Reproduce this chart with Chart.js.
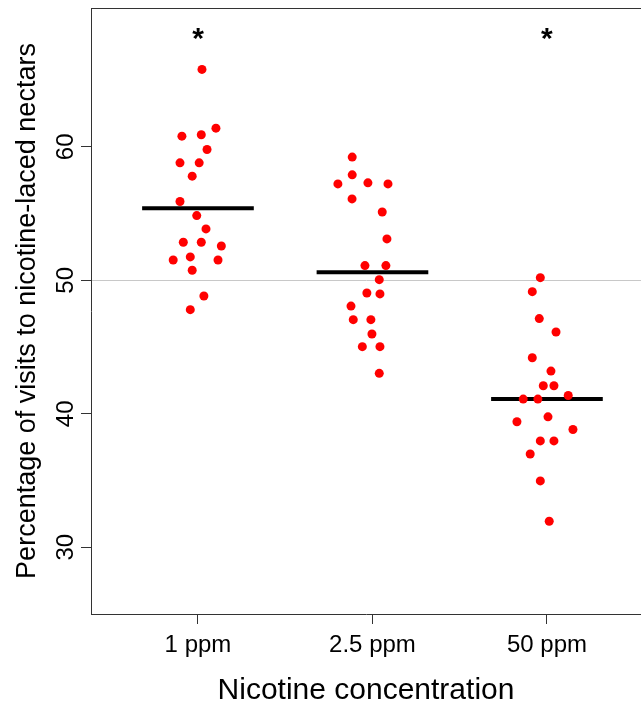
<!DOCTYPE html>
<html>
<head>
<meta charset="utf-8">
<script src="https://cdn.jsdelivr.net/npm/chart.js@4/dist/chart.umd.min.js"></script>
<style>
    html, body { margin: 0; padding: 0; background: #fff; }
    canvas { display: block; }
</style>
</head>
<body>
<canvas id="chart" width="641" height="706"></canvas>
<script>
// categories along the x axis
const categories = ["1 ppm", "2.5 ppm", "50 ppm"];

// percentage of visits, one value per colony
const values1ppm = [65.8, 61.4, 60.8, 60.9, 59.8, 58.8, 58.8, 57.8, 55.9, 54.85,
    53.85, 52.85, 52.85, 52.57, 51.52, 51.75, 51.52, 50.75, 48.82, 47.8];
const values2_5ppm = [59.23, 57.9, 57.22, 57.3, 57.22, 56.1, 55.12, 53.1, 51.1, 51.1,
    50.05, 49.05, 48.98, 48.07, 47.05, 47.05, 45.98, 45.03, 45.03, 43.03];
const values50ppm = [50.2, 49.15, 47.13, 46.13, 44.2, 43.2, 42.1, 42.1, 41.37, 41.1,
    41.1, 39.77, 39.4, 38.82, 37.97, 37.97, 36.99, 34.97, 31.95];

// horizontal jitter of each point (in category units)
const jitter1ppm = [0.023, 0.103, -0.092, 0.019, 0.052, -0.103, 0.007, -0.033, -0.103, -0.007,
    0.046, -0.084, 0.019, 0.134, -0.142, -0.044, 0.115, -0.033, 0.034, -0.044];
const jitter2_5ppm = [-0.116, -0.116, -0.198, -0.026, 0.089, -0.117, 0.056, 0.083, -0.043, 0.077,
    0.039, -0.032, 0.043, -0.123, -0.110, -0.009, -0.003, -0.058, 0.043, 0.039];
const jitter50ppm = [-0.038, -0.084, -0.044, 0.052, -0.084, 0.023, -0.021, 0.040, 0.122, -0.136,
    -0.052, 0.006, -0.172, 0.149, -0.038, 0.040, -0.096, -0.038, 0.013];

// group means (black bars) and significance marks
const means = [55.4, 50.6, 41.1];
const significance = ["*", "", "*"];

// axis ticks
const yTicks = [30, 40, 50, 60];
const referenceLine = 50;

const groups = [values1ppm, values2_5ppm, values50ppm];
const jitters = [jitter1ppm, jitter2_5ppm, jitter50ppm];

const points = [];
groups.forEach(function (vals, g) {
    vals.forEach(function (v, i) {
        points.push({ x: g + 1 + jitters[g][i], y: v });
    });
});

const meanDatasets = means.map(function (m, g) {
    return {
        type: "line",
        data: [{ x: g + 1 - 0.32, y: m }, { x: g + 1 + 0.32, y: m }],
        borderColor: "#000",
        borderWidth: 4,
        pointRadius: 0,
        order: 2
    };
});

Chart.defaults.font.family = "'Liberation Sans', Arial, sans-serif";
Chart.defaults.color = "#000";

const framePlugin = {
    id: "frame",
    afterDraw: function (chart) {
        const ctx = chart.ctx;
        const area = chart.chartArea;
        ctx.save();
        ctx.strokeStyle = "#333";
        ctx.lineWidth = 1;
        ctx.beginPath();
        ctx.moveTo(area.left, area.top + 0.5);
        ctx.lineTo(area.right, area.top + 0.5);
        ctx.stroke();

        ctx.fillStyle = "#000";
        ctx.font = "bold 30px 'Liberation Sans', Arial, sans-serif";
        ctx.textAlign = "center";
        ctx.textBaseline = "middle";
        significance.forEach(function (s, g) {
            if (!s) {
                return;
            }
            const x = chart.scales.x.getPixelForValue(g + 1);
            const y = chart.scales.y.getPixelForValue(68.0);
            ctx.fillText(s, x, y);
        });
        ctx.restore();
    }
};

new Chart(document.getElementById("chart"), {
    type: "scatter",
    data: {
        datasets: [{
            data: points,
            backgroundColor: "#ff0000",
            borderWidth: 0,
            pointRadius: 4.5,
            order: 1
        }].concat(meanDatasets)
    },
    options: {
        responsive: false,
        animation: false,
        layout: { autoPadding: false, padding: { top: 8, right: 0, bottom: 0, left: 0 } },
        plugins: {
            legend: { display: false },
            tooltip: { enabled: false }
        },
        scales: {
            x: {
                type: "linear",
                min: 0.387,
                max: 3.539,
                afterBuildTicks: function (scale) {
                    scale.ticks = categories.map(function (c, i) { return { value: i + 1 }; });
                },
                afterFit: function (scale) {
                    scale.height = 92;
                    scale.paddingLeft = 0;
                    scale.paddingRight = 0;
                },
                ticks: {
                    font: { size: 24 },
                    color: "#000",
                    padding: 7,
                    maxRotation: 0,
                    callback: function (value) { return categories[value - 1]; }
                },
                grid: {
                    drawOnChartArea: false,
                    tickLength: 10,
                    tickColor: "#333"
                },
                border: { display: true, color: "#333", width: 1 },
                title: {
                    display: true,
                    text: "Nicotine concentration",
                    font: { size: 30, lineHeight: 1 },
                    color: "#000",
                    padding: { top: 0, bottom: 0 }
                }
            },
            y: {
                min: 25,
                max: 70.4,
                afterBuildTicks: function (scale) {
                    scale.ticks = yTicks.map(function (v) { return { value: v }; });
                },
                afterFit: function (scale) {
                    scale.width = 91;
                    scale.paddingTop = 0;
                    scale.paddingBottom = 0;
                },
                ticks: {
                    font: { size: 24 },
                    color: "#000",
                    minRotation: 90,
                    maxRotation: 90,
                    crossAlign: "center",
                    padding: 1
                },
                grid: {
                    color: function (ctx) {
                        return ctx.tick && ctx.tick.value === referenceLine ? "#c8c8c8" : "rgba(0,0,0,0)";
                    },
                    tickColor: "#333",
                    tickLength: 10
                },
                border: { display: true, color: "#333", width: 1 },
                title: {
                    display: true,
                    text: "Percentage of visits to nicotine-laced nectars",
                    font: { size: 27 },
                    color: "#000",
                    padding: { top: 11, bottom: 0 }
                }
            }
        }
    },
    plugins: [framePlugin]
});
</script>
</body>
</html>
